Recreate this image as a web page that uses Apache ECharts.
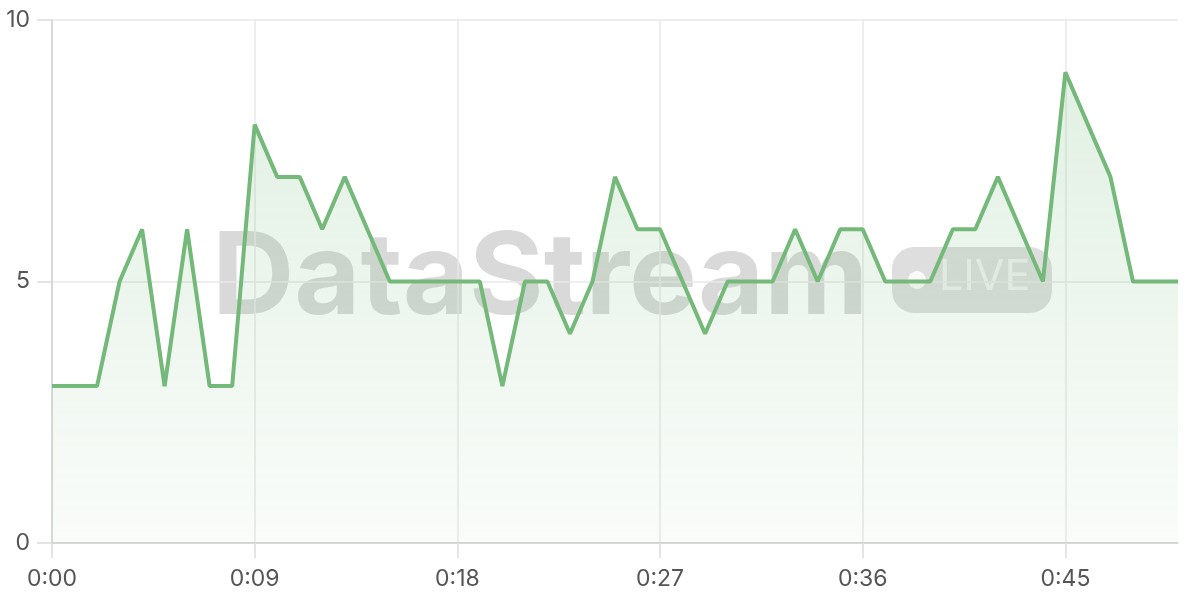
<!DOCTYPE html>
<html>
<head>
<meta charset="utf-8">
<script src="https://cdn.jsdelivr.net/npm/echarts@6/dist/echarts.min.js"></script>
<style>
html,body{margin:0;padding:0;background:#fff;}
#chart{width:1200px;height:600px;}
</style>
</head>
<body>
<div id="chart"></div>
<script>
const categories = ["0:00","0:01","0:02","0:03","0:04","0:05","0:06","0:07","0:08","0:09",
"0:10","0:11","0:12","0:13","0:14","0:15","0:16","0:17","0:18","0:19",
"0:20","0:21","0:22","0:23","0:24","0:25","0:26","0:27","0:28","0:29",
"0:30","0:31","0:32","0:33","0:34","0:35","0:36","0:37","0:38","0:39",
"0:40","0:41","0:42","0:43","0:44","0:45","0:46","0:47","0:48","0:49","0:50"];
const values = [3,3,3,5,6,3,6,3,3,8,
7,7,6,7,6,5,5,5,5,5,
3,5,5,4,5,7,6,6,5,4,
5,5,5,6,5,6,6,5,5,5,
6,6,7,6,5,9,8,7,5,5,5];
const yTicks = [0,5,10];

const chart = echarts.init(document.getElementById('chart'));
const font = 'Inter, "Noto Sans", sans-serif';
chart.setOption({
  animation:false,
  grid:{left:52,right:22,top:20,bottom:57},
  graphic:[
    {type:'text',z:-10,left:212,top:223,style:{text:'DataStream',font:'bold 114px Inter, "Noto Sans", sans-serif',fill:'rgba(0,0,0,0.15)'}},
    {type:'rect',z:-10,shape:{x:892,y:247,width:160,height:66,r:22},style:{fill:'rgba(0,0,0,0.13)'}},
    {type:'circle',z:-9,shape:{cx:917,cy:280,r:9},style:{fill:'rgba(255,255,255,0.85)'}},
    {type:'text',z:-9,left:939,top:256,style:{text:'LIVE',font:'43px Inter, "Noto Sans", sans-serif',fill:'rgba(255,255,255,0.6)'}}
  ],
  xAxis:{
    type:'category',data:categories,boundaryGap:false,
    axisLine:{show:true,lineStyle:{color:'#cfcfcf',width:1.5}},
    axisTick:{show:true,interval:8,length:15,inside:false,lineStyle:{color:'#dcdcdc',width:1.5}},
    axisLabel:{interval:8,color:'#555',fontSize:23,fontFamily:font,margin:25},
    splitLine:{show:true,interval:8,lineStyle:{color:'#e8e8e8',width:1.5}}
  },
  yAxis:{
    type:'value',min:0,max:10,interval:5,
    axisLine:{show:true,lineStyle:{color:'#d2d2d2',width:1.5}},
    axisTick:{show:true,length:15,inside:false,lineStyle:{color:'#dcdcdc',width:1.5}},
    axisLabel:{color:'#555',fontSize:23,fontFamily:font,margin:22,
      formatter:function(v){return yTicks.indexOf(v)>=0?String(v):'';}},
    splitLine:{show:true,lineStyle:{color:'#e8e8e8',width:1.5}}
  },
  series:[{
    type:'line',data:values,symbol:'none',
    lineStyle:{color:'#74b979',width:4},
    itemStyle:{color:'#74b979'},
    areaStyle:{color:new echarts.graphic.LinearGradient(0,0,0,1,[
      {offset:0,color:'rgba(116,185,121,0.3)'},
      {offset:1,color:'rgba(116,185,121,0.06)'}
    ])}
  }]
});
</script>
</body>
</html>
